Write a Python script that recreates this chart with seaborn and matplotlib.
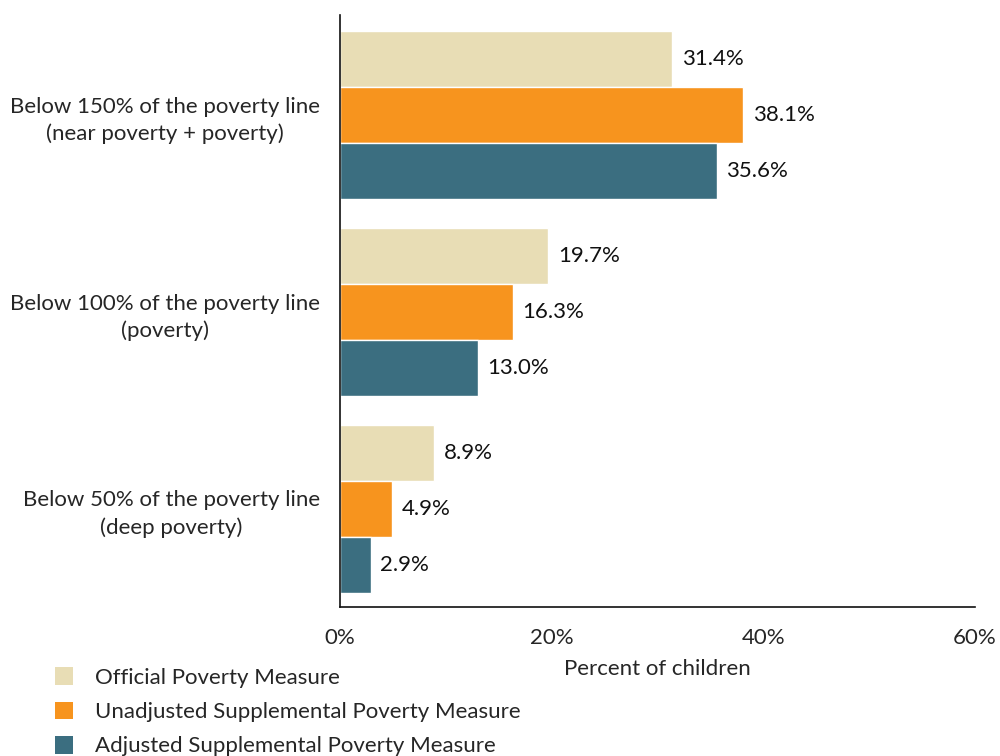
import numpy as np
import pandas as pd
import matplotlib.pyplot as plt
import seaborn as sns
from matplotlib.patches import Patch

categories = ['Below 150% of the poverty line\n(near poverty + poverty)',
              'Below 100% of the poverty line\n(poverty)',
              'Below 50% of the poverty line\n(deep poverty)']
measures = ['Official Poverty Measure',
            'Unadjusted Supplemental Poverty Measure',
            'Adjusted Supplemental Poverty Measure']
official = [31.4, 19.7, 8.9]
unadjusted_spm = [38.1, 16.3, 4.9]
adjusted_spm = [35.6, 13.0, 2.9]
colors = ['#E8DDB5', '#F7941E', '#3B6E80']

df = pd.DataFrame({
    'category': categories * 3,
    'measure': np.repeat(measures, 3),
    'value': official + unadjusted_spm + adjusted_spm,
})

sns.set_style('white')
plt.rcParams['font.family'] = ['Lato', 'DejaVu Sans']
fs = 16

fig = plt.figure(figsize=(10, 7.56), dpi=100)
ax = fig.add_axes([0.34, 0.197, 0.635, 0.783])

sns.barplot(data=df, y='category', x='value', hue='measure', order=categories,
            hue_order=measures, palette=colors, width=0.855, orient='h',
            legend=False, ax=ax, saturation=1)

# value labels at the end of each bar
for cont in ax.containers:
    ax.bar_label(cont, labels=[f'{v:.1f}%' for v in cont.datavalues],
                 padding=7, fontsize=fs, color='#111111')

ax.set_xlim(0, 60)
ax.set_ylim(2.5, -0.51)
ax.set_xticks([0, 20, 40, 60])
ax.set_xticklabels(['0%', '20%', '40%', '60%'], fontsize=fs)
ax.tick_params(axis='x', length=0, pad=15)
ax.tick_params(axis='y', length=0, pad=14.5, labelsize=fs)
for lbl in ax.get_yticklabels():
    lbl.set_horizontalalignment('right')
    lbl.set_multialignment('center')
    lbl.set_linespacing(1.4)
ax.set_ylabel('')
ax.set_xlabel('Percent of children', fontsize=fs, labelpad=8)
for s in ['top', 'right']:
    ax.spines[s].set_visible(False)
for s in ['left', 'bottom']:
    ax.spines[s].set_color('#111111')
    ax.spines[s].set_linewidth(1.2)

handles = [Patch(facecolor=c, edgecolor='none') for c in colors]
fig.legend(handles, measures, loc='lower left', bbox_to_anchor=(0.035, -0.027),
           frameon=False, fontsize=fs, handlelength=0.8, handleheight=0.85,
           handletextpad=1.0, labelspacing=0.62)

fig.savefig('out.png', dpi=100)
